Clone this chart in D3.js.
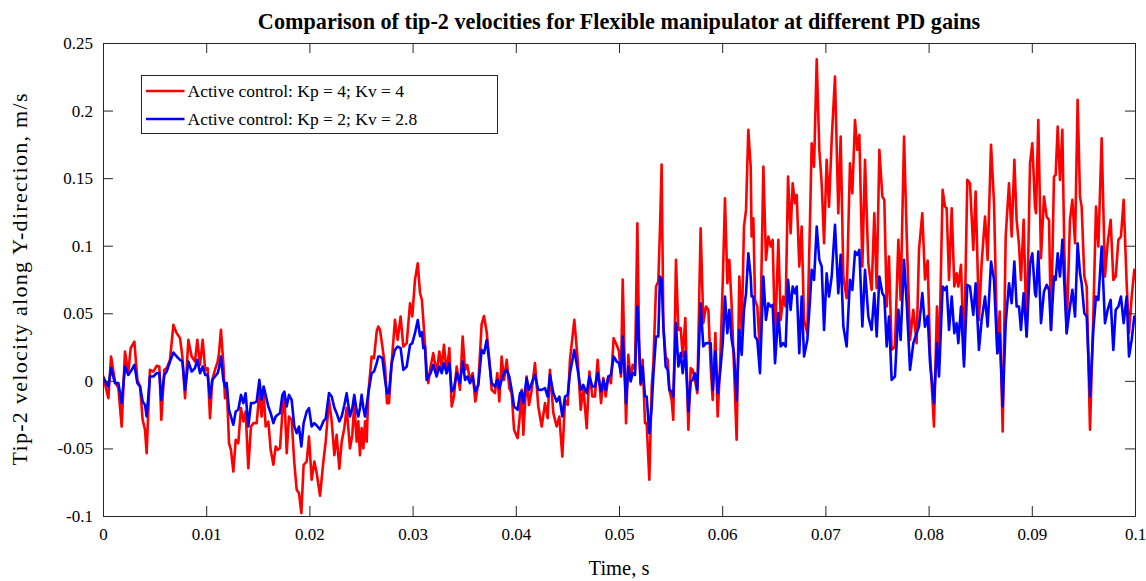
<!DOCTYPE html>
<html>
<head>
<meta charset="utf-8">
<script src="https://cdn.jsdelivr.net/npm/d3@7"></script>
<style>
  body { margin: 0; background: #fff; }
  svg { display: block; font-family: "Liberation Serif", "Times New Roman", serif; }
  .axis path, .axis line { stroke: #262626; }
  .axis text { fill: #000; font-size: 17px; font-family: "Liberation Serif", serif; }
</style>
</head>
<body>
<svg id="chart"></svg>
<script>
// time in seconds, velocities in m/s
var time = [
  0, 0.00052, 0.00078, 0.00116, 0.00149, 0.00181, 0.00213, 0.00245, 0.00268, 0.00304,
  0.00333, 0.00359, 0.00384, 0.00407, 0.00423, 0.00455, 0.00488, 0.00520, 0.00546, 0.00565,
  0.00594, 0.00617, 0.00649, 0.00682, 0.00714, 0.00746, 0.00769, 0.00795, 0.00827, 0.00859,
  0.00891, 0.00914, 0.00940, 0.00966, 0.00990,
  0.01014, 0.01037, 0.01059, 0.01085, 0.01111, 0.01124, 0.01143, 0.01166, 0.01182, 0.01198,
  0.01221, 0.01240, 0.01263, 0.01286, 0.01311, 0.01337, 0.01360, 0.01382, 0.01408, 0.01434,
  0.01457, 0.01489, 0.01515, 0.01537, 0.01557, 0.01576, 0.01602, 0.01625, 0.01651, 0.01673,
  0.01693, 0.01715, 0.01738, 0.01757, 0.01780, 0.01802, 0.01828, 0.01854, 0.01877, 0.01899,
  0.01922, 0.01944, 0.01974, 0.01996, 0.02022, 0.02048,
  0.02070, 0.02103, 0.02135, 0.02158, 0.02190, 0.02216, 0.02242, 0.02264, 0.02290, 0.02313,
  0.02338, 0.02361, 0.02393, 0.02416, 0.02435, 0.02458, 0.02474, 0.02490, 0.02506, 0.02523,
  0.02539, 0.02555, 0.02571, 0.02603, 0.02626, 0.02652, 0.02668, 0.02684, 0.02707, 0.02733,
  0.02752, 0.02771, 0.02797, 0.02829, 0.02855, 0.02884, 0.02910, 0.02943, 0.02975, 0.02997,
  0.03023, 0.03050, 0.03072, 0.03090, 0.03104, 0.03120,
  0.03136, 0.03152, 0.03175, 0.03200, 0.03233, 0.03259, 0.03282, 0.03304, 0.03330, 0.03356,
  0.03379, 0.03401, 0.03427, 0.03459, 0.03485, 0.03508, 0.03530, 0.03556, 0.03582, 0.03608,
  0.03637, 0.03669, 0.03692, 0.03718, 0.03744, 0.03766, 0.03798, 0.03821, 0.03840, 0.03863,
  0.03886, 0.03912, 0.03937, 0.03960, 0.03983,
  0.04018, 0.04041, 0.04057, 0.04073, 0.04105, 0.04128, 0.04154, 0.04186, 0.04218, 0.04251,
  0.04283, 0.04309, 0.04331, 0.04364, 0.04396, 0.04422, 0.04451, 0.04477, 0.04503, 0.04525,
  0.04567, 0.04600, 0.04629, 0.04654, 0.04687, 0.04713, 0.04742, 0.04767, 0.04793, 0.04826,
  0.04848, 0.04871, 0.04897, 0.04922, 0.04948, 0.04977, 0.05000, 0.05019,
  0.05036, 0.05068, 0.05090, 0.05113, 0.05132, 0.05155, 0.05178, 0.05197, 0.05210, 0.05229,
  0.05252, 0.05268, 0.05294, 0.05317, 0.05333, 0.05359, 0.05381, 0.05397, 0.05413, 0.05430,
  0.05452, 0.05472, 0.05488, 0.05510, 0.05526, 0.05552, 0.05575, 0.05598, 0.05617, 0.05643,
  0.05672, 0.05695, 0.05714, 0.05736, 0.05759, 0.05791, 0.05817, 0.05843, 0.05866, 0.05888,
  0.05908, 0.05934, 0.05956, 0.05979, 0.06005, 0.06027, 0.06050, 0.06069,
  0.06092, 0.06114, 0.06140, 0.06166, 0.06189, 0.06211, 0.06231, 0.06253, 0.06276, 0.06285,
  0.06302, 0.06318, 0.06340, 0.06366, 0.06399, 0.06424, 0.06447, 0.06470, 0.06489, 0.06512,
  0.06544, 0.06567, 0.06592, 0.06615, 0.06638, 0.06663, 0.06683, 0.06705, 0.06722, 0.06747,
  0.06770, 0.06793, 0.06825, 0.06851, 0.06867, 0.06890, 0.06916, 0.06941, 0.06964, 0.06987,
  0.07012,
  0.07035, 0.07061, 0.07093, 0.07125, 0.07148, 0.07174, 0.07206, 0.07238, 0.07261, 0.07287,
  0.07309, 0.07329, 0.07358, 0.07384, 0.07416, 0.07448, 0.07474, 0.07497, 0.07523, 0.07552,
  0.07571, 0.07594, 0.07616, 0.07642, 0.07674, 0.07707, 0.07729, 0.07762, 0.07788, 0.07820,
  0.07852, 0.07884, 0.07907, 0.07939, 0.07965, 0.07991,
  0.08014, 0.08052, 0.08081, 0.08101, 0.08136, 0.08159, 0.08175, 0.08198, 0.08224, 0.08249,
  0.08272, 0.08288, 0.08314, 0.08343, 0.08375, 0.08401, 0.08433, 0.08456, 0.08488, 0.08514,
  0.08547, 0.08572, 0.08605, 0.08634, 0.08666, 0.08689, 0.08718, 0.08747, 0.08779, 0.08805,
  0.08831, 0.08853, 0.08876, 0.08895, 0.08921, 0.08950, 0.08983, 0.09005, 0.09031,
  0.09041, 0.09063, 0.09089, 0.09118, 0.09144, 0.09167, 0.09186, 0.09215, 0.09231, 0.09251,
  0.09273, 0.09296, 0.09315, 0.09338, 0.09370, 0.09393, 0.09419, 0.09444, 0.09467, 0.09483,
  0.09509, 0.09532, 0.09564, 0.09596, 0.09622, 0.09645, 0.09677, 0.09709, 0.09735, 0.09764,
  0.09790, 0.09813, 0.09839, 0.09864, 0.09890, 0.09919, 0.09942, 0.09968, 0.09993, 0.1
];

// Active control: Kp = 4; Kv = 4
var redVel = [
  0.004, -0.0128, 0.0180, -0.0005, -0.0054, -0.0338, 0.0217, 0.0057, 0.0242, 0.0291,
  0.0007, -0.0042, -0.0288, -0.0362, -0.0535, 0.0081, 0.0069, 0.0111, 0.0106, -0.0288,
  0.0081, 0.0094, 0.0155, 0.0414, 0.0353, 0.0316, 0.0180, -0.0128, 0.0303, 0.0180,
  0.0143, 0.0303, 0.0118, 0.0303, 0.0081,
  0.0094, -0.0276, 0.0007, 0.0081, 0.0143, 0.0205, 0.0377, 0.0131, -0.0128, -0.0017,
  -0.0461, -0.0510, -0.0671, -0.0436, -0.0461, -0.0202, -0.0301, -0.0227, -0.0646, -0.0338,
  -0.0313, -0.0313, -0.0091, -0.0264, -0.0091, -0.0338, -0.0301, -0.0510, -0.0621, -0.0486,
  -0.0510, -0.0498, -0.0239, -0.0091, -0.0535, -0.0264, -0.0288, -0.0609, -0.0806, -0.0831,
  -0.0979, -0.0621, -0.0597, -0.0412, -0.0732, -0.0597,
  -0.068, -0.085, -0.060, -0.045, -0.014, -0.030, -0.055, -0.040, -0.065, -0.045,
  -0.035, -0.020, -0.050, -0.040, -0.0165, -0.045, -0.030, -0.055, -0.035, -0.050,
  -0.030, -0.045, -0.0091, 0.0180, 0.0168, 0.0365, 0.0402, 0.0377, 0.0254, 0.0106,
  -0.0165, -0.0165, 0.0131, 0.0451, 0.0303, 0.0476, 0.0254, 0.0279, 0.0574, 0.0476,
  0.0747, 0.087, 0.065, 0.060, 0.045, 0.0266,
  0.0081, -0.0017, 0.0106, 0.0205, 0.0057, 0.0217, 0.0106, 0.0266, 0.0057, 0.0242,
  -0.0190, -0.0116, 0.0106, -0.0067, 0.0328, 0.0081, 0.0118, 0.0007, 0.0057, -0.0153,
  -0.0017, 0.042, 0.048, 0.036, 0.0155, -0.0067, -0.0091, 0.0057, -0.0153, 0.0180,
  0.0007, 0.0155, -0.0054, -0.0091, -0.0362,
  -0.0424, -0.0239, -0.0067, -0.0399, 0.0032, -0.0178, -0.0067, 0.0131, -0.0190, -0.0338,
  -0.0165, -0.0276, 0.0081, -0.0239, -0.0338, -0.0264, -0.0560, -0.0141, -0.0178, 0.0155,
  0.0451, 0.0155, -0.0214, -0.0042, -0.0350, 0.0069, -0.0116, -0.0116, 0.0155, -0.0165,
  0.0020, -0.0116, 0.0032, -0.0017, 0.0316, 0.0266, 0.0217, 0.0032,
  0.075, -0.0313, 0.0192, 0.0007, 0.0118, 0.0081, 0.1166, 0.0180, -0.0030, 0.0155,
  -0.0313, -0.0313, -0.0732, -0.0042, 0.0131, 0.0698, 0.0735, 0.1117, 0.160, 0.0402,
  0.0180, 0.0155, -0.0067, -0.0141, -0.0288, 0.0895, 0.0377, 0.0390, 0.0180, 0.0464,
  -0.0362, 0.0094, 0.0081, 0.0007, -0.0091, 0.1129, 0.0427, 0.0550, 0.0525, 0.0106,
  -0.0141, 0.0353, -0.0264, 0.0106, 0.0722, 0.135, 0.0722, 0.0895,
  0.0550, 0.0106, -0.0436, 0.0772, 0.0353, 0.1141, 0.1265, 0.1857, 0.1585, 0.1068,
  0.1203, 0.0599, 0.0550, 0.0205, 0.1585, 0.0895, 0.1068, 0.0994, 0.1043, 0.0303,
  0.1043, 0.0451, 0.0624, 0.0550, 0.1511, 0.1092, 0.1462, 0.1314, 0.1376, 0.0846,
  0.1141, 0.0451, 0.0353, 0.1191, 0.1758, 0.1585, 0.238, 0.1709, 0.1462, 0.1018,
  0.1635,
  0.1289, 0.1783, 0.2251, 0.1240, 0.1807, 0.0772, 0.0611, 0.1610, 0.1388, 0.1930,
  0.1709, 0.1820, 0.0846, 0.1635, 0.0870, 0.0673, 0.1240, 0.0685, 0.1709, 0.1363,
  0.1339, 0.0550, 0.0920, 0.0229, 0.0254, 0.1043, 0.0599, 0.1807, 0.1068, 0.0303,
  0.0525, 0.0279, 0.0969, 0.124, 0.075, 0.089,
  0.0205, -0.0338, 0.0550, 0.0131, 0.1413, 0.1289, 0.1277, 0.0747, 0.1277, 0.0698,
  0.0796, 0.0698, 0.0858, 0.0155, 0.1487, 0.1462, 0.0969, 0.1400, 0.0451, 0.0870,
  0.1215, 0.0895, 0.1746, 0.1314, 0.0205, 0.0513, -0.0375, 0.1068, 0.1462, 0.1068,
  0.1635, 0.1191, 0.1006, 0.0747, 0.1191, 0.0328, 0.1610, 0.1758, 0.1289,
  0.1240, 0.1930, 0.0907, 0.1363, 0.1215, 0.1191, 0.0377, 0.1511, 0.1524, 0.1881,
  0.1487, 0.1857, 0.0969, 0.0353, 0.1191, 0.1339, 0.1018, 0.208, 0.1363, 0.1289,
  0.0772, 0.0698, -0.0362, 0.0476, 0.1289, 0.0994, 0.1795, 0.0772, 0.1018, 0.1191,
  0.0747, 0.0772, 0.1043, 0.1068, 0.1339, 0.0722, 0.0353, 0.0624, 0.0821, 0.075
];

// Active control: Kp = 2; Kv = 2.8
var blueVel = [
  0.003, -0.0042, 0.0094, -0.0017, -0.0017, -0.0165, 0.0106, 0.0044, 0.0069, 0.0118,
  -0.0017, -0.0042, -0.0153, -0.0178, -0.0264, 0.0032, 0.0032, 0.0057, 0.0057, -0.0141,
  0.0044, 0.0069, 0.0143, 0.0210, 0.0180, 0.0155, 0.0143, -0.0067, 0.0143, 0.0069,
  0.0094, 0.0155, 0.0057, 0.0106, 0.0044,
  0.0044, -0.0128, 0.0007, 0.0032, 0.0057, 0.0094, 0.0180, 0.0007, -0.0042, -0.0017,
  -0.0214, -0.0264, -0.0325, -0.0227, -0.0214, -0.0104, -0.0165, -0.0091, -0.0338, -0.0165,
  -0.0165, -0.0153, 0.0007, -0.0141, -0.0042, -0.0104, -0.0190, -0.0239, -0.0313, -0.0264,
  -0.0251, -0.0239, -0.0104, -0.0079, -0.0190, -0.0104, -0.0141, -0.0338, -0.0387, -0.0338,
  -0.0486, -0.0313, -0.0227, -0.0202, -0.0338, -0.0313,
  -0.033, -0.036, -0.030, -0.028, -0.0091, -0.0116, -0.020, -0.0239, -0.030, -0.0264,
  -0.018, -0.0091, -0.0264, -0.020, -0.0104, -0.022, -0.0264, -0.020, -0.0104, -0.020,
  -0.0264, -0.018, -0.0091, 0.0057, 0.0069, 0.0131, 0.0180, 0.0180, 0.0168, 0.0007,
  -0.0091, -0.0091, 0.0131, 0.0229, 0.0254, 0.0242, 0.0081, 0.0106, 0.0266, 0.0279,
  0.0353, 0.045, 0.033, 0.036, 0.0242, 0.0254,
  0.0007, 0.0032, 0.0057, 0.0118, 0.0032, 0.0106, 0.0057, 0.0131, 0.0057, 0.0131,
  -0.0079, -0.0054, 0.0057, -0.0017, 0.0143, 0.0007, 0.0032, -0.0017, 0.0032, -0.0079,
  -0.0030, 0.0229, 0.0205, 0.0303, 0.0131, -0.0017, -0.0042, 0.0007, -0.0054, 0.0007,
  0.0057, 0.0081, 0.0032, -0.0067, -0.0190,
  -0.0214, -0.0091, -0.0079, -0.0165, 0.0020, -0.0067, -0.0017, 0.0044, -0.0067, -0.0067,
  -0.0054, -0.0116, 0.0044, -0.0091, -0.0153, -0.0116, -0.0264, -0.0116, -0.0104, 0.0057,
  0.0229, 0.0081, -0.0067, -0.0030, -0.0091, 0.0032, -0.0042, -0.0042, 0.0057, -0.0079,
  0.0007, -0.0067, 0.0032, 0.0044, 0.0180, 0.0143, 0.0131, 0.0057,
  0.0328, -0.0165, 0.0106, -0.0005, 0.0057, 0.0044, 0.0550, 0.0229, -0.0017, 0.0106,
  -0.0116, -0.0116, -0.0387, -0.0190, 0.0044, 0.0328, 0.0328, 0.0772, 0.075, 0.0402,
  0.0106, 0.0081, -0.0067, -0.0079, -0.0116, 0.0427, 0.0106, 0.0205, 0.0057, 0.0217,
  -0.0227, -0.0005, 0.0007, 0.0057, -0.0067, 0.0574, 0.0254, 0.0279, 0.0279, 0.0279,
  -0.0067, 0.0217, -0.0091, 0.0057, 0.0279, 0.0624, 0.0353, 0.0525,
  0.0303, 0.0205, -0.0141, 0.0377, 0.0192, 0.0525, 0.0648, 0.0944, 0.0772, 0.0624,
  0.0624, 0.0328, 0.0303, 0.0057, 0.0772, 0.0451, 0.0574, 0.0550, 0.0562, 0.0131,
  0.0501, 0.0254, 0.0279, 0.0254, 0.0747, 0.0525, 0.0698, 0.0648, 0.0698, 0.0205,
  0.0624, 0.0180, 0.0303, 0.0599, 0.0821, 0.0747, 0.1141, 0.0895, 0.0846, 0.0377,
  0.0796,
  0.0624, 0.0772, 0.1154, 0.0648, 0.0932, 0.0402, 0.0254, 0.0747, 0.0673, 0.0957,
  0.0932, 0.0969, 0.0402, 0.0821, 0.0476, 0.0377, 0.0648, 0.0328, 0.0772, 0.0648,
  0.0624, 0.0254, 0.0476, 0.0007, 0.0032, 0.0525, 0.0303, 0.0895, 0.0574, 0.0081,
  0.0279, 0.0353, 0.0402, 0.065, 0.040, 0.048,
  0.0131, -0.0165, 0.0279, 0.0032, 0.0698, 0.0673, 0.0698, 0.0377, 0.0624, 0.0353,
  0.0427, 0.0279, 0.0550, 0.0106, 0.0710, 0.0698, 0.0488, 0.0722, 0.0229, 0.0451,
  0.0624, 0.0402, 0.0883, 0.0747, 0.0205, 0.0353, -0.0190, 0.0427, 0.0722, 0.0574,
  0.0883, 0.0550, 0.0550, 0.0377, 0.0648, 0.0328, 0.0870, 0.0944, 0.0648,
  0.0624, 0.0957, 0.0427, 0.0661, 0.0710, 0.0673, 0.0377, 0.0772, 0.0747, 0.0944,
  0.0772, 0.1043, 0.0722, 0.0353, 0.0550, 0.0673, 0.0476, 0.1018, 0.0796, 0.0722,
  0.0501, 0.0476, -0.0116, 0.0377, 0.0624, 0.0599, 0.0994, 0.0427, 0.0525, 0.0599,
  0.0229, 0.0525, 0.0550, 0.0624, 0.0427, 0.0624, 0.0180, 0.0303, 0.0476, 0.047
];

var xTicks = [0, 0.01, 0.02, 0.03, 0.04, 0.05, 0.06, 0.07, 0.08, 0.09, 0.1];
var yTicks = [-0.1, -0.05, 0, 0.05, 0.1, 0.15, 0.2, 0.25];

var seriesNames = ["Active control: Kp = 4; Kv = 4", "Active control: Kp = 2; Kv = 2.8"];
var seriesColors = ["#ff0000", "#0000ff"];

(function () {

    var width = 1146, height = 581;
    var plotL = 103, plotR = 1135, plotT = 43, plotB = 516;

    var svg = d3.select("#chart").attr("width", width).attr("height", height);

    var x = d3.scaleLinear().domain([0, 0.1]).range([plotL, plotR]);
    var y = d3.scaleLinear().domain([-0.1, 0.25]).range([plotB, plotT]);

    var fmt = function(d) { return String(+d.toFixed(3)); };

    // clip so thick lines stay inside the box
    svg.append("clipPath").attr("id", "plotclip")
        .append("rect")
        .attr("x", plotL).attr("y", plotT)
        .attr("width", plotR - plotL).attr("height", plotB - plotT);

    var line = d3.line()
        .x(function(d) { return x(d[0]); })
        .y(function(d) { return y(d[1]); });

    var series = [redVel, blueVel];
    series.forEach(function(vals, k) {
        var pts = time.map(function(t, i) { return [t, vals[i]]; });
        svg.append("path")
            .datum(pts)
            .attr("clip-path", "url(#plotclip)")
            .attr("fill", "none")
            .attr("stroke", seriesColors[k])
            .attr("stroke-width", 2.6)
            .attr("stroke-linejoin", "round")
            .attr("d", line);
    });

    // axes with inward ticks on all four sides (matlab style)
    svg.append("g").attr("class", "axis")
        .attr("transform", "translate(0," + plotB + ")")
        .call(d3.axisBottom(x).tickValues(xTicks).tickFormat(fmt).tickSizeInner(-10).tickSizeOuter(0).tickPadding(12));

    svg.append("g").attr("class", "axis")
        .attr("transform", "translate(0," + plotT + ")")
        .call(d3.axisTop(x).tickValues(xTicks).tickFormat("").tickSizeInner(-10).tickSizeOuter(0));

    svg.append("g").attr("class", "axis")
        .attr("transform", "translate(" + plotL + ",0)")
        .call(d3.axisLeft(y).tickValues(yTicks).tickFormat(fmt).tickSizeInner(-10).tickSizeOuter(0).tickPadding(10));

    svg.append("g").attr("class", "axis")
        .attr("transform", "translate(" + plotR + ",0)")
        .call(d3.axisRight(y).tickValues(yTicks).tickFormat("").tickSizeInner(-10).tickSizeOuter(0));

    svg.selectAll(".axis text").attr("font-family", null).attr("font-size", null);

    // title and axis labels
    svg.append("text")
        .attr("x", (plotL + plotR) / 2).attr("y", 29)
        .attr("text-anchor", "middle")
        .attr("font-weight", "bold")
        .attr("font-size", 22.2)
        .text("Comparison of tip-2 velocities for Flexible manipulator at different PD gains");

    svg.append("text")
        .attr("x", (plotL + plotR) / 2).attr("y", 575)
        .attr("text-anchor", "middle")
        .attr("font-size", 20.5)
        .text("Time, s");

    svg.append("text")
        .attr("transform", "translate(27," + (plotT + plotB) / 2 + ") rotate(-90)")
        .attr("text-anchor", "middle")
        .attr("font-size", 22)
        .attr("textLength", 372)
        .attr("lengthAdjust", "spacing")
        .text("Tip-2 velocity along Y-direction, m/s");

    // legend
    var legend = svg.append("g").attr("transform", "translate(141.5,75.5)");
    legend.append("rect")
        .attr("width", 356).attr("height", 58)
        .attr("fill", "#fff")
        .attr("stroke", "#262626")
        .attr("stroke-width", 1);

    seriesNames.forEach(function(name, k) {
        var ly = 15.5 + k * 28;
        legend.append("line")
            .attr("x1", 4.5).attr("x2", 43)
            .attr("y1", ly).attr("y2", ly)
            .attr("stroke", seriesColors[k])
            .attr("stroke-width", 2.6);
        legend.append("text")
            .attr("x", 46).attr("y", ly + 5.5)
            .attr("font-size", 17.5)
            .text(name);
    });

}());
</script>
</body>
</html>
